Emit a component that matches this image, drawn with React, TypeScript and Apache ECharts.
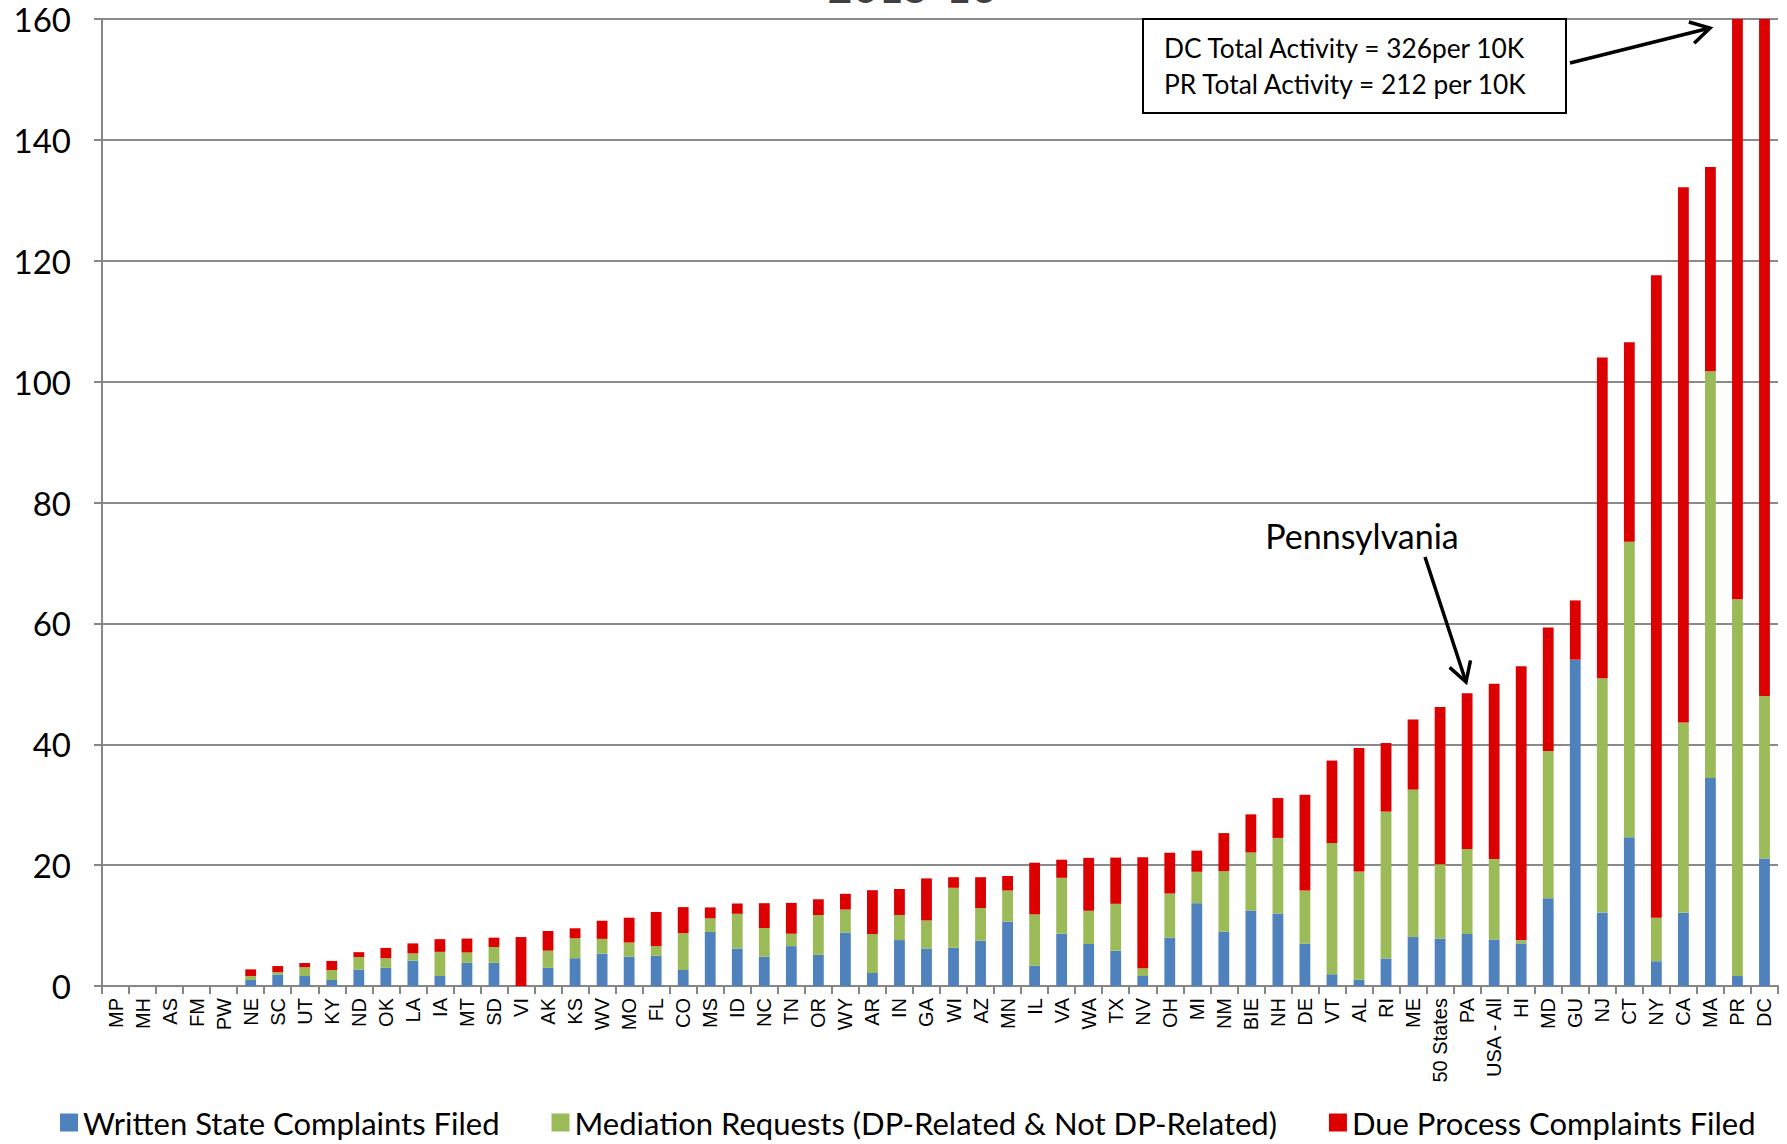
import React, { useEffect, useRef } from "react";
import * as echarts from "echarts";

const categories = [
  "MP", "MH", "AS", "FM", "PW", "NE", "SC", "UT", "KY", "ND", "OK", "LA", "IA", "MT", "SD", "VI",
  "AK", "KS", "WV", "MO", "FL", "CO", "MS", "ID", "NC", "TN", "OR", "WY", "AR", "IN", "GA", "WI",
  "AZ", "MN", "IL", "VA", "WA", "TX", "NV", "OH", "MI", "NM", "BIE", "NH", "DE", "VT", "AL", "RI",
  "ME", "50 States", "PA", "USA - All", "HI", "MD", "GU", "NJ", "CT", "NY", "CA", "MA", "PR", "DC",
];

const writtenComplaints = [
  0, 0, 0, 0, 0, 1.0, 1.9, 1.65, 1.0, 2.7, 3.0, 4.2, 1.65, 3.85, 3.85, 0,
  3.0, 4.6, 5.35, 4.85, 5.0, 2.65, 8.95, 6.2, 4.85, 6.6, 5.15, 8.85, 2.15, 7.6, 6.2, 6.35,
  7.5, 10.65, 3.35, 8.65, 6.95, 5.85, 1.65, 8.0, 13.7, 9.0, 12.5, 12.0, 7.0, 1.95, 1.05, 4.55,
  8.1, 7.85, 8.6, 7.7, 7.05, 14.5, 54.0, 12.15, 24.6, 4.1, 12.1, 34.4, 1.65, 21.1,
];

const mediationRequests = [
  0, 0, 0, 0, 0, 0.65, 0.4, 1.45, 1.65, 2.1, 1.6, 1.2, 4.0, 1.7, 2.6, 0,
  2.85, 3.3, 2.45, 2.35, 1.6, 6.1, 2.25, 5.75, 4.75, 2.05, 6.6, 3.8, 6.45, 4.15, 4.65, 9.9,
  5.4, 5.15, 8.5, 9.25, 5.5, 7.75, 1.3, 7.3, 5.2, 10.0, 9.6, 12.5, 8.8, 21.7, 17.9, 24.3,
  24.4, 12.3, 14.05, 13.3, 0.55, 24.4, 0, 38.75, 48.9, 7.2, 31.5, 67.3, 62.35, 26.9,
];

const dueProcessComplaints = [
  0, 0, 0, 0, 0, 1.1, 1.0, 0.7, 1.5, 0.8, 1.7, 1.65, 2.1, 2.3, 1.55, 8.1,
  3.25, 1.65, 3.0, 4.1, 5.65, 4.3, 1.8, 1.7, 4.1, 5.1, 2.6, 2.6, 7.25, 4.3, 6.95, 1.75,
  5.1, 2.4, 8.55, 3.0, 8.75, 7.65, 18.35, 6.75, 3.5, 6.3, 6.3, 6.6, 15.85, 13.65, 20.45, 11.35,
  11.6, 26.0, 25.8, 29.0, 45.3, 20.4, 9.8, 53.1, 33.0, 106.3, 88.55, 33.8, 148, 278,
];

const seriesNames = [
  "Written State Complaints Filed",
  "Mediation Requests (DP-Related & Not DP-Related)",
  "Due Process Complaints Filed",
];
const seriesColors = ["#4F81BD", "#9BBB59", "#DD0000"];

const yTicks = { min: 0, max: 160, interval: 20 };

const CAL = "Lato, 'Open Sans', sans-serif";

function arrow(x1: number, y1: number, x2: number, y2: number, head = 22, ang = Math.PI / 6) {
  const a = Math.atan2(y2 - y1, x2 - x1);
  const p1 = [x2 - head * Math.cos(a - ang), y2 - head * Math.sin(a - ang)];
  const p2 = [x2 - head * Math.cos(a + ang), y2 - head * Math.sin(a + ang)];
  return [
    { type: "line", z: 100, shape: { x1, y1, x2, y2 }, style: { stroke: "#000", lineWidth: 3.5 } },
    {
      type: "polyline",
      z: 100,
      shape: { points: [p1, [x2, y2], p2] },
      style: { stroke: "#000", lineWidth: 3.5, fill: null },
    },
  ];
}

export default function App() {
  const ref = useRef<HTMLDivElement>(null);
  useEffect(() => {
    if (!ref.current) return;
    const chart = echarts.init(ref.current, null, { renderer: "svg" });
    const data = [writtenComplaints, mediationRequests, dueProcessComplaints];
    chart.setOption({
      animation: false,
      backgroundColor: "#ffffff",
      grid: { left: 102, right: 9, top: 19, bottom: 158, containLabel: false },
      legend: {
        left: 55,
        top: 1102,
        icon: "rect",
        itemWidth: 18,
        itemHeight: 18,
        itemGap: 52,
        textStyle: { fontFamily: CAL, fontSize: 31, color: "#000" },
        data: seriesNames,
      },
      xAxis: {
        type: "category",
        data: categories,
        boundaryGap: true,
        axisLine: { lineStyle: { color: "#868686", width: 2 } },
        axisTick: { show: true, length: 8, inside: false, alignWithLabel: false, lineStyle: { color: "#868686", width: 2 } },
        axisLabel: {
          rotate: 90,
          interval: 0,
          margin: 12,
          fontFamily: "'Liberation Sans', Arial, sans-serif",
          fontSize: 20,
          color: "#000",
        },
      },
      yAxis: {
        type: "value",
        min: yTicks.min,
        max: yTicks.max,
        interval: yTicks.interval,
        axisLine: { show: true, lineStyle: { color: "#868686", width: 2 } },
        axisTick: { show: true, length: 8, lineStyle: { color: "#868686", width: 2 } },
        splitLine: { show: true, lineStyle: { color: "#8a8a8a", width: 2 } },
        axisLabel: { fontFamily: CAL, fontSize: 33, color: "#000", margin: 31 },
      },
      series: seriesNames.map((name, i) => ({
        name,
        type: "bar",
        stack: "total",
        barWidth: "40%",
        clip: true,
        itemStyle: { color: seriesColors[i] },
        data: data[i],
      })),
      graphic: [
        {
          type: "text",
          x: 912,
          y: -36,
          style: {
            text: "2015-16",
            font: `44px ${CAL}`,
            fill: "#404040",
            align: "center",
            verticalAlign: "top",
          },
        },
        {
          type: "rect",
          z: 90,
          shape: { x: 1143, y: 19, width: 423, height: 94 },
          style: { fill: "#fff", stroke: "#000", lineWidth: 2 },
        },
        {
          type: "text",
          z: 95,
          x: 1164,
          y: 48,
          style: { text: "DC Total Activity = 326per 10K", font: `26.3px ${CAL}`, fill: "#000", verticalAlign: "middle" },
        },
        {
          type: "text",
          z: 95,
          x: 1164,
          y: 84,
          style: { text: "PR Total Activity = 212 per 10K", font: `26.3px ${CAL}`, fill: "#000", verticalAlign: "middle" },
        },
        ...arrow(1570, 63, 1710, 28),
        {
          type: "text",
          z: 95,
          x: 1362,
          y: 535,
          style: { text: "Pennsylvania", font: `34px ${CAL}`, fill: "#000", align: "center", verticalAlign: "middle" },
        },
        ...arrow(1425, 557, 1466, 682),
      ],
    });
    return () => chart.dispose();
  }, []);
  return (
    <div
      ref={ref}
      style={{ position: "fixed", left: 0, top: 0, width: 1787, height: 1144, background: "#fff" }}
    />
  );
}
